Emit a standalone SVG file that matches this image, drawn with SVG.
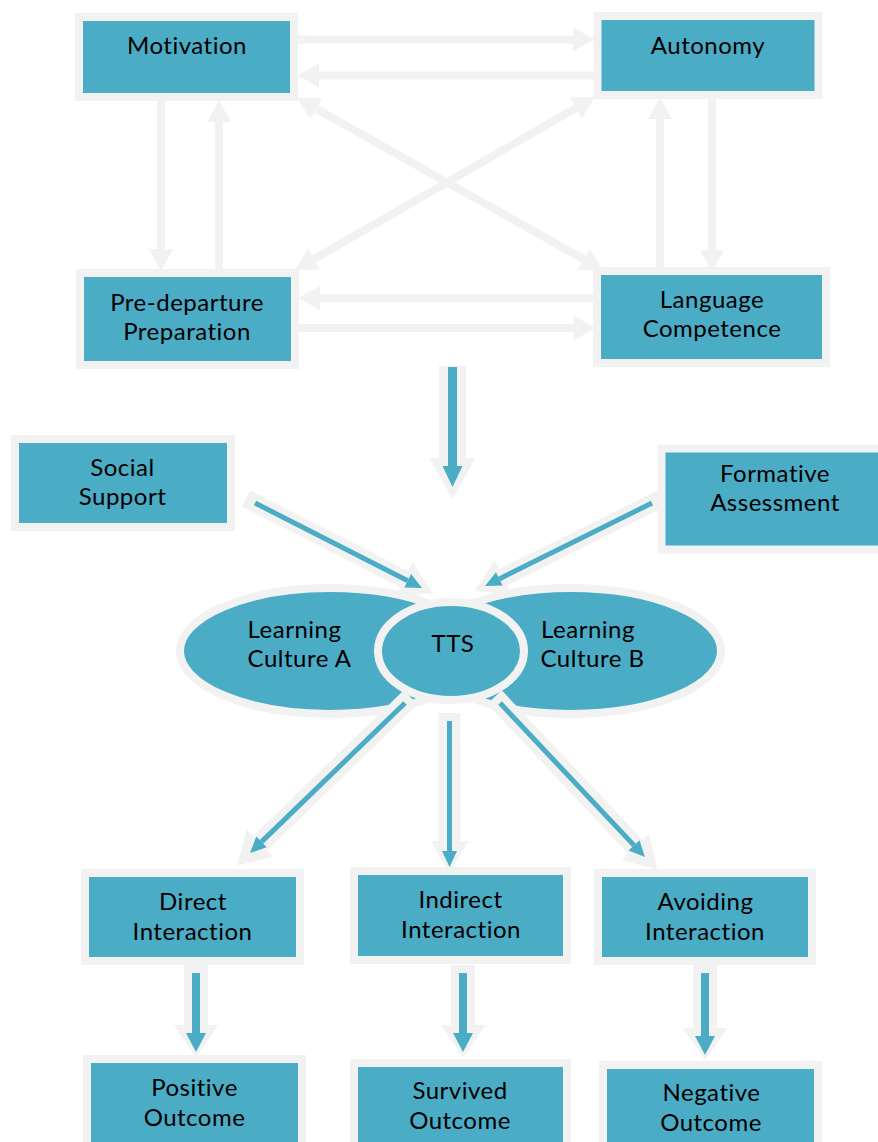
<svg xmlns="http://www.w3.org/2000/svg" width="878" height="1142" viewBox="0 0 878 1142">
<style>
.box{fill:#4BACC6;stroke:#F2F2F2;stroke-width:8}
.lbl{font-family:Lato,"Open Sans","Liberation Sans",sans-serif;font-size:24px;letter-spacing:0.5px;fill:#000;text-anchor:middle}
.ga{stroke:#F2F2F2;stroke-width:8;fill:none}
.gw{stroke:#F2F2F2;fill:none}
.bl{stroke:#4BACC6;fill:none}
</style>
<defs>
<marker id="gh" markerUnits="userSpaceOnUse" markerWidth="22" markerHeight="24" refX="0" refY="12" orient="auto-start-reverse" overflow="visible"><path d="M0,0 L22,12 L0,24 z" fill="#F2F2F2"/></marker>
<marker id="gBig" markerUnits="userSpaceOnUse" markerWidth="41" markerHeight="46" refX="0" refY="23" orient="auto" overflow="visible"><path d="M0,0 L41,23 L0,46 z" fill="#F2F2F2"/></marker>
<marker id="bBig" markerUnits="userSpaceOnUse" markerWidth="21" markerHeight="20" refX="0" refY="10" orient="auto" overflow="visible"><path d="M0,0 L21,10 L0,20 z" fill="#4BACC6"/></marker>
<marker id="gMed" markerUnits="userSpaceOnUse" markerWidth="32" markerHeight="45" refX="0" refY="22.5" orient="auto" overflow="visible"><path d="M0,0 L32,22.5 L0,45 z" fill="#F2F2F2"/></marker>
<marker id="bMed" markerUnits="userSpaceOnUse" markerWidth="19" markerHeight="20" refX="0" refY="10" orient="auto" overflow="visible"><path d="M0,0 L19,10 L0,20 z" fill="#4BACC6"/></marker>
<marker id="gThin" markerUnits="userSpaceOnUse" markerWidth="32" markerHeight="38" refX="0" refY="19" orient="auto" overflow="visible"><path d="M0,0 L32,19 L0,38 z" fill="#F2F2F2"/></marker>
<marker id="bThin" markerUnits="userSpaceOnUse" markerWidth="16" markerHeight="15" refX="0" refY="7.5" orient="auto" overflow="visible"><path d="M0,0 L16,7.5 L0,15 z" fill="#4BACC6"/></marker>
</defs>
<rect width="878" height="1142" fill="#FFFFFF"/>

<g id="motivation"><rect class="box" x="79" y="17" width="215" height="80"/><text class="lbl" x="187" y="54">Motivation</text></g>
<g id="autonomy"><rect class="box" x="597.5" y="16" width="221" height="79"/><text class="lbl" x="708" y="54">Autonomy</text></g>
<g id="predeparture"><rect class="box" x="80" y="273" width="215" height="92"/><text class="lbl" x="187" y="311">Pre-departure</text><text class="lbl" x="187" y="340">Preparation</text></g>
<g id="language"><rect class="box" x="597" y="271" width="229" height="92"/><text class="lbl" x="712" y="308">Language</text><text class="lbl" x="712" y="337">Competence</text></g>
<g id="social"><rect class="box" x="15" y="439" width="216" height="88"/><text class="lbl" x="122.5" y="476">Social</text><text class="lbl" x="122.5" y="505">Support</text></g>
<g id="formative"><rect class="box" x="661.5" y="448.5" width="230" height="101"/><text class="lbl" x="775" y="482">Formative</text><text class="lbl" x="775" y="511">Assessment</text></g>
<g id="cultureA"><ellipse class="box" cx="330" cy="651" rx="150" ry="63"/></g>
<g id="cultureB"><ellipse class="box" cx="571" cy="651" rx="150" ry="63"/></g>
<g id="labelsAB"><text class="lbl" x="294.5" y="638">Learning</text><text class="lbl" x="299.5" y="667">Culture A</text><text class="lbl" x="588" y="638">Learning</text><text class="lbl" x="592.5" y="667">Culture B</text></g>
<g id="tts"><ellipse class="box" cx="451" cy="651" rx="73" ry="49"/><text class="lbl" x="453" y="652">TTS</text></g>
<g id="direct"><rect class="box" x="85" y="873" width="215" height="88"/><text class="lbl" x="193" y="910">Direct</text><text class="lbl" x="192.5" y="940">Interaction</text></g>
<g id="indirect"><rect class="box" x="354" y="871" width="213" height="89"/><text class="lbl" x="460.5" y="908">Indirect</text><text class="lbl" x="461" y="938">Interaction</text></g>
<g id="avoiding"><rect class="box" x="598" y="873" width="214" height="88"/><text class="lbl" x="705.5" y="910">Avoiding</text><text class="lbl" x="705" y="940">Interaction</text></g>
<g id="positive"><rect class="box" x="87" y="1059" width="215" height="100"/><text class="lbl" x="194.5" y="1096">Positive</text><text class="lbl" x="194.5" y="1126">Outcome</text></g>
<g id="survived"><rect class="box" x="354" y="1063" width="213" height="100"/><text class="lbl" x="460" y="1099">Survived</text><text class="lbl" x="460" y="1129">Outcome</text></g>
<g id="negative"><rect class="box" x="603" y="1065" width="215" height="100"/><text class="lbl" x="711.5" y="1101">Negative</text><text class="lbl" x="711" y="1131">Outcome</text></g>

<g id="connectors">
<line class="ga" x1="297" y1="39.5" x2="573" y2="39.5" marker-end="url(#gh)"/>
<line class="ga" x1="595" y1="75.5" x2="319" y2="75.5" marker-end="url(#gh)"/>
<line class="ga" x1="161" y1="100" x2="161" y2="249" marker-end="url(#gh)"/>
<line class="ga" x1="219" y1="271" x2="219" y2="122" marker-end="url(#gh)"/>
<line class="ga" x1="712" y1="97" x2="712" y2="250" marker-end="url(#gh)"/>
<line class="ga" x1="660" y1="271" x2="660" y2="119" marker-end="url(#gh)"/>
<line class="ga" x1="596" y1="298" x2="320" y2="298" marker-end="url(#gh)"/>
<line class="ga" x1="298" y1="328" x2="574" y2="328" marker-end="url(#gh)"/>
<line class="ga" x1="316.2" y1="108.8" x2="583.8" y2="259.2" marker-start="url(#gh)" marker-end="url(#gh)"/>
<line class="ga" x1="575.9" y1="108" x2="314.1" y2="259" marker-start="url(#gh)" marker-end="url(#gh)"/>

<line class="gw" stroke-width="27" x1="452.5" y1="366" x2="452.5" y2="458" marker-end="url(#gBig)"/>
<line class="bl" stroke-width="9" x1="452.5" y1="367" x2="452.5" y2="466" marker-end="url(#bBig)"/>

<line class="gw" stroke-width="18" x1="246.1" y1="498.5" x2="404.2" y2="578.9" marker-end="url(#gThin)"/>
<line class="bl" stroke-width="5" x1="255" y1="503" x2="407.7" y2="580.7" marker-end="url(#bThin)"/>
<line class="gw" stroke-width="18" x1="661" y1="498.5" x2="503" y2="577.1" marker-end="url(#gThin)"/>
<line class="bl" stroke-width="5" x1="652" y1="503" x2="499.3" y2="578.9" marker-end="url(#bThin)"/>

<line class="gw" stroke-width="20" x1="410.7" y1="697.4" x2="260.1" y2="843.2" marker-end="url(#gThin)"/>
<line class="bl" stroke-width="5" x1="405" y1="703" x2="261.5" y2="841.9" marker-end="url(#bThin)"/>
<line class="gw" stroke-width="22" x1="449.5" y1="713" x2="449.5" y2="841" marker-end="url(#gThin)"/>
<line class="bl" stroke-width="5" x1="449.5" y1="721" x2="449.5" y2="851" marker-end="url(#bThin)"/>
<line class="gw" stroke-width="20" x1="494.5" y1="697.2" x2="635.4" y2="846.8" marker-end="url(#gThin)"/>
<line class="bl" stroke-width="5" x1="500" y1="703" x2="634" y2="845.4" marker-end="url(#bThin)"/>

<line class="gw" stroke-width="24" x1="196" y1="965" x2="196" y2="1025" marker-end="url(#gMed)"/>
<line class="bl" stroke-width="8" x1="196" y1="973" x2="196" y2="1033" marker-end="url(#bMed)"/>
<line class="gw" stroke-width="24" x1="463" y1="965" x2="463" y2="1025" marker-end="url(#gMed)"/>
<line class="bl" stroke-width="8" x1="463" y1="973" x2="463" y2="1033" marker-end="url(#bMed)"/>
<line class="gw" stroke-width="24" x1="705" y1="965" x2="705" y2="1028" marker-end="url(#gMed)"/>
<line class="bl" stroke-width="8" x1="705" y1="973" x2="705" y2="1036" marker-end="url(#bMed)"/>
</g>
</svg>
